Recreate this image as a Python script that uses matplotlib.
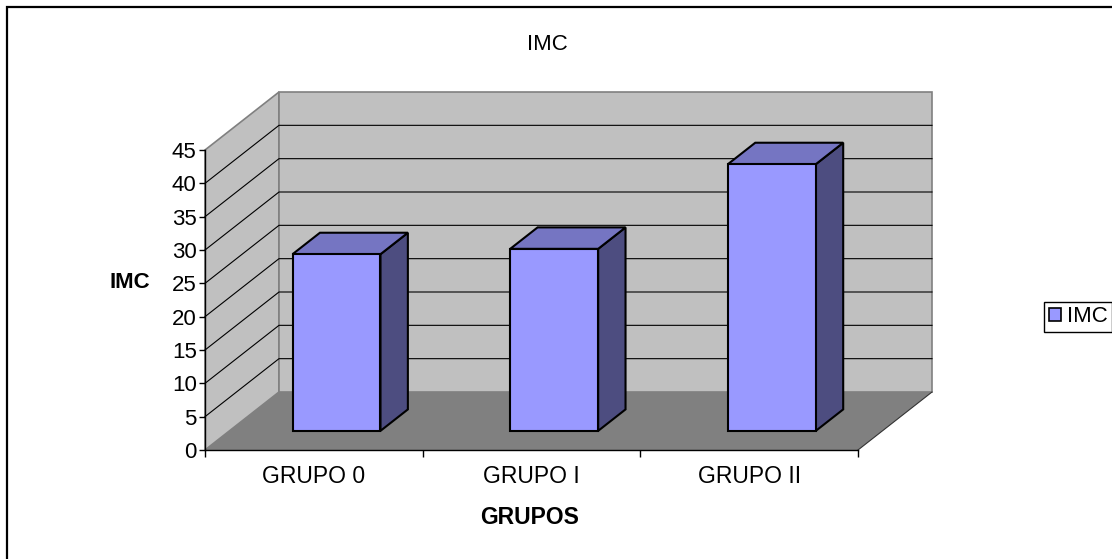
import matplotlib
matplotlib.use("Agg")
import matplotlib.pyplot as plt
from matplotlib.patches import Patch, Rectangle

plt.rcParams['font.family'] = ['Liberation Sans', 'DejaVu Sans']

groups = ['GRUPO 0', 'GRUPO I', 'GRUPO II']
imc = [26.5, 27.3, 40.0]
yticks = [0, 5, 10, 15, 20, 25, 30, 35, 40, 45]

# oblique depth of the box, in data units
DX, DY = 0.34, 8.7
ymax = 45
bar_w = 0.404
f0, f1 = 0.33, 0.70   # bar front / back as fractions of the depth

front_c = '#9999FF'
top_c = '#7575C2'
side_c = '#4D4D80'

fig = plt.figure(figsize=(11.12, 5.59), dpi=100)
ax = fig.add_axes([205 / 1112, 109 / 559, 653 / 1112, 300 / 559])
ax.set_xlim(0, len(groups))
ax.set_ylim(0, ymax)
ax.patch.set_visible(False)

n = len(groups)
# walls and floor
ax.fill([0, DX, DX, 0], [0, DY, ymax + DY, ymax], fc='#C0C0C0',
        ec='#808080', lw=1.2, clip_on=False, zorder=1)
ax.fill([DX, n + DX, n + DX, DX], [DY, DY, ymax + DY, ymax + DY],
        fc='#C0C0C0', ec='#808080', lw=1.2, clip_on=False, zorder=1)
ax.fill([0, n, n + DX, DX], [0, 0, DY, DY], fc='#808080', ec='none',
        clip_on=False, zorder=1.1)
ax.plot([n, n + DX], [0, DY], color='#333333', lw=0.8, clip_on=False, zorder=1.2)

# gridlines across side and back wall
for v in yticks[1:-1]:
    ax.plot([0, DX, n + DX], [v, v + DY, v + DY], color='black', lw=0.8,
            clip_on=False, zorder=1.2)

# 3D bars
for i, v in enumerate(imc):
    x0 = i + 0.5 - bar_w / 2 - 0.008
    x1 = x0 + bar_w
    ax0, ay0 = f0 * DX, f0 * DY
    ax1, ay1 = f1 * DX, f1 * DY
    kw = dict(ec='black', lw=1.5, clip_on=False, zorder=3, joinstyle='miter')
    # side
    ax.fill([x1 + ax0, x1 + ax1, x1 + ax1, x1 + ax0],
            [ay0, ay1, v + ay1, v + ay0], fc=side_c, **kw)
    # top
    ax.fill([x0 + ax0, x1 + ax0, x1 + ax1, x0 + ax1],
            [v + ay0, v + ay0, v + ay1, v + ay1], fc=top_c, **kw)
    # front
    ax.fill([x0 + ax0, x1 + ax0, x1 + ax0, x0 + ax0],
            [ay0, ay0, v + ay0, v + ay0], fc=front_c, **kw)

# axes
for s in ['top', 'right']:
    ax.spines[s].set_visible(False)
for s in ['left', 'bottom']:
    ax.spines[s].set_linewidth(1.0)
ax.set_yticks(yticks)
ax.tick_params(axis='y', length=4, width=1, pad=2, labelsize=16)
ax.set_xticks(range(n + 1))
ax.set_xticklabels([])
ax.tick_params(axis='x', which='major', length=5, width=1)
ax.set_xticks([i + 0.5 for i in range(n)], minor=True)
ax.set_xticklabels(groups, minor=True, fontsize=16.5)
ax.tick_params(axis='x', which='minor', length=0, pad=11)

fig.text(547 / 1112, 1 - 44 / 559, 'IMC', ha='center', va='center', fontsize=16)
fig.text(130 / 1112, 1 - 282 / 559, 'IMC', ha='center', va='center',
         fontsize=16, fontweight='bold')
fig.text(530 / 1112, 1 - 518 / 559, 'GRUPOS', ha='center', va='center',
         fontsize=16.5, fontweight='bold')

leg = fig.legend(handles=[Patch(fc=front_c, ec='black', lw=1.2, label='IMC')],
                 loc='center', bbox_to_anchor=(1078 / 1112, 1 - 317 / 559),
                 fontsize=16, fancybox=False, framealpha=1, edgecolor='black',
                 handlelength=0.55, handleheight=0.55, handletextpad=0.25,
                 borderpad=0.22, borderaxespad=0)
leg.get_frame().set_linewidth(1.0)

# chart area border
fig.patches.append(Rectangle((7 / 1112, -0.1), 1.2, 1.1 - 7 / 559,
                             transform=fig.transFigure, fill=False,
                             ec='black', lw=1.6))

fig.savefig('out.png', dpi=100)
